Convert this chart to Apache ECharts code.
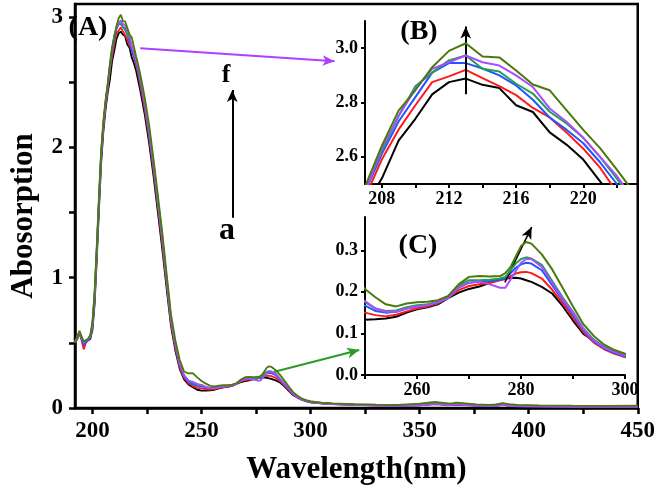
<!DOCTYPE html>
<html lang="en">
<head>
<meta charset="UTF-8">
<title>UV spectra</title>
<style>
    html, body {
        margin: 0;
        padding: 0;
        background-color: #fff;
    }
    #chart {
        width: 658px;
        height: 493px;
    }
</style>
<script src="https://cdn.jsdelivr.net/npm/echarts@6.0.0/dist/echarts.min.js"></script>
</head>
<body>
<div id="chart"></div>
<script>
    // wavelengths (nm), shared by all six spectra
    var wavelength = [
        192, 193, 194, 195, 196, 197, 198, 199, 200, 201, 202, 203, 204, 205, 206, 207,
        208, 209, 210, 211, 212, 213, 214, 215, 216, 217, 218, 219, 220, 221, 222, 223,
        224, 226, 228, 230, 232, 234, 236, 238, 240, 242, 244, 246, 248,
        250, 252, 254, 256, 258, 260, 262, 264, 266, 268, 270, 272, 274, 276, 277, 278, 279, 280, 281, 282,
        284, 286, 288, 290, 292, 294, 296, 298, 300,
        305, 310, 320, 330, 340, 350, 354, 357, 361, 364, 367, 371, 376, 382, 385, 388, 391, 395, 405, 420, 435, 450
    ];

    var absA = [
        0.50, 0.53, 0.57, 0.54, 0.51, 0.51, 0.52, 0.53, 0.60, 0.80, 1.15, 1.53, 1.88, 2.12, 2.29, 2.42,
        2.52, 2.66, 2.74, 2.83, 2.875, 2.888, 2.865, 2.853, 2.79, 2.765, 2.69, 2.645, 2.59, 2.51, 2.43, 2.34,
        2.25, 2.03, 1.78, 1.50, 1.22, 0.92, 0.63, 0.44, 0.30, 0.22, 0.18, 0.16, 0.14,
        0.133, 0.134, 0.136, 0.14, 0.15, 0.158, 0.163, 0.17, 0.185, 0.198, 0.207, 0.213, 0.222, 0.23, 0.232, 0.233, 0.234, 0.232, 0.228, 0.224,
        0.212, 0.196, 0.166, 0.131, 0.099, 0.082, 0.066, 0.054, 0.044,
        0.036, 0.030, 0.024, 0.020, 0.017, 0.020, 0.026, 0.030, 0.026, 0.022, 0.027, 0.022, 0.018, 0.015, 0.017, 0.024, 0.018, 0.014, 0.012, 0.010, 0.010, 0.010
    ];
    var absB = [
        0.50, 0.53, 0.58, 0.52, 0.45, 0.50, 0.52, 0.54, 0.62, 0.84, 1.19, 1.57, 1.92, 2.15, 2.32, 2.45,
        2.59, 2.70, 2.79, 2.875, 2.896, 2.92, 2.89, 2.86, 2.827, 2.78, 2.745, 2.69, 2.63, 2.56, 2.47, 2.38,
        2.29, 2.07, 1.82, 1.54, 1.26, 0.95, 0.65, 0.46, 0.31, 0.23, 0.19, 0.17, 0.155,
        0.15, 0.144, 0.141, 0.145, 0.153, 0.16, 0.165, 0.172, 0.186, 0.204, 0.214, 0.218, 0.222, 0.228, 0.231, 0.238, 0.244, 0.247, 0.248, 0.245,
        0.232, 0.205, 0.173, 0.138, 0.103, 0.078, 0.062, 0.051, 0.043,
        0.036, 0.031, 0.025, 0.021, 0.018, 0.022, 0.028, 0.032, 0.028, 0.024, 0.029, 0.024, 0.019, 0.016, 0.019, 0.026, 0.019, 0.015, 0.013, 0.011, 0.011, 0.011
    ];
    var absC = [
        0.50, 0.53, 0.58, 0.53, 0.48, 0.51, 0.52, 0.54, 0.63, 0.86, 1.21, 1.59, 1.94, 2.17, 2.34, 2.47,
        2.61, 2.73, 2.82, 2.91, 2.945, 2.945, 2.925, 2.90, 2.863, 2.81, 2.745, 2.70, 2.65, 2.58, 2.50, 2.41,
        2.32, 2.10, 1.85, 1.57, 1.29, 0.98, 0.67, 0.48, 0.33, 0.24, 0.20, 0.185, 0.17,
        0.167, 0.154, 0.15, 0.152, 0.16, 0.164, 0.168, 0.174, 0.186, 0.21, 0.222, 0.225, 0.226, 0.229, 0.232, 0.245, 0.258, 0.266, 0.27, 0.268,
        0.252, 0.216, 0.18, 0.145, 0.107, 0.081, 0.064, 0.053, 0.045,
        0.037, 0.032, 0.026, 0.022, 0.019, 0.024, 0.030, 0.035, 0.030, 0.026, 0.032, 0.026, 0.021, 0.017, 0.021, 0.029, 0.021, 0.016, 0.014, 0.012, 0.012, 0.012
    ];
    var absD = [
        0.51, 0.54, 0.59, 0.54, 0.50, 0.52, 0.53, 0.55, 0.64, 0.87, 1.22, 1.60, 1.95, 2.18, 2.35, 2.48,
        2.62, 2.75, 2.86, 2.91, 2.955, 2.973, 2.924, 2.914, 2.869, 2.833, 2.766, 2.723, 2.67, 2.60, 2.52, 2.43,
        2.34, 2.12, 1.87, 1.59, 1.31, 0.99, 0.68, 0.49, 0.34, 0.25, 0.21, 0.195, 0.18,
        0.175, 0.16, 0.154, 0.155, 0.163, 0.168, 0.17, 0.176, 0.188, 0.215, 0.228, 0.228, 0.229, 0.232, 0.236, 0.252, 0.268, 0.279, 0.283, 0.28,
        0.265, 0.226, 0.187, 0.152, 0.112, 0.085, 0.068, 0.057, 0.05,
        0.040, 0.034, 0.028, 0.024, 0.021, 0.028, 0.035, 0.040, 0.035, 0.030, 0.037, 0.031, 0.024, 0.020, 0.024, 0.033, 0.025, 0.020, 0.017, 0.015, 0.014, 0.015
    ];
    var absE = [
        0.51, 0.54, 0.59, 0.54, 0.50, 0.52, 0.53, 0.55, 0.64, 0.87, 1.22, 1.60, 1.95, 2.18, 2.34, 2.47,
        2.63, 2.75, 2.85, 2.924, 2.948, 2.973, 2.948, 2.936, 2.90, 2.857, 2.778, 2.729, 2.67, 2.60, 2.53, 2.44,
        2.35, 2.13, 1.88, 1.60, 1.32, 1.00, 0.69, 0.49, 0.34, 0.25, 0.21, 0.20, 0.185,
        0.178, 0.16, 0.152, 0.152, 0.16, 0.165, 0.168, 0.175, 0.185, 0.21, 0.222, 0.225, 0.218, 0.21, 0.21, 0.23, 0.25, 0.27, 0.279, 0.279,
        0.26, 0.222, 0.183, 0.15, 0.11, 0.083, 0.066, 0.055, 0.046,
        0.036, 0.030, 0.024, 0.019, 0.016, 0.021, 0.027, 0.031, 0.027, 0.022, 0.028, 0.023, 0.018, 0.014, 0.017, 0.025, 0.017, 0.013, 0.011, 0.009, 0.009, 0.009
    ];
    var absF = [
        0.50, 0.53, 0.59, 0.55, 0.51, 0.52, 0.53, 0.56, 0.66, 0.90, 1.25, 1.63, 1.98, 2.20, 2.36, 2.49,
        2.64, 2.77, 2.845, 2.93, 2.99, 3.018, 2.969, 2.966, 2.918, 2.866, 2.845, 2.772, 2.699, 2.632, 2.553, 2.47,
        2.38, 2.17, 1.91, 1.63, 1.35, 1.03, 0.72, 0.52, 0.37, 0.28, 0.265, 0.268, 0.235,
        0.207, 0.187, 0.17, 0.165, 0.172, 0.175, 0.176, 0.18, 0.19, 0.218, 0.236, 0.238, 0.237, 0.238, 0.245, 0.26, 0.285, 0.31, 0.32, 0.316,
        0.29, 0.254, 0.21, 0.165, 0.122, 0.094, 0.073, 0.06, 0.051,
        0.042, 0.036, 0.030, 0.026, 0.024, 0.034, 0.042, 0.046, 0.040, 0.034, 0.042, 0.036, 0.028, 0.024, 0.028, 0.038, 0.030, 0.024, 0.020, 0.018, 0.017, 0.018
    ];

    var spectra = [absA, absB, absC, absD, absE, absF];
    var spectraNames = ['a', 'b', 'c', 'd', 'e', 'f'];
    var spectraColors = ['#000000', '#ff1a1a', '#2255ff', '#20a050', '#aa4cff', '#4a7a0c'];

    // tick labels
    var mainXLabels = [200, 250, 300, 350, 400, 450];
    var mainXTicks = [200, 225, 250, 275, 300, 325, 350, 375, 400, 425, 450];
    var mainYLabels = [0, 1, 2, 3];
    var mainYTicks = [0, 0.5, 1, 1.5, 2, 2.5, 3];
    var insetBXLabels = [208, 212, 216, 220];
    var insetBXTicks = [208, 210, 212, 214, 216, 218, 220, 222];
    var insetBYLabels = [2.6, 2.8, 3.0];
    var insetCXLabels = [260, 280, 300];
    var insetCXTicks = [250, 260, 270, 280, 290, 300];
    var insetCYLabels = [0, 0.1, 0.2, 0.3];

    var serif = '"Liberation Serif", "Times New Roman", serif';
    var chart = echarts.init(document.getElementById('chart'));

    function pairs(vals) {
        return wavelength.map(function (w, i) { return [w, vals[i]]; });
    }

    function axisBase(lineWidth, fontSize, tickLen) {
        return {
            type: 'value',
            splitLine: {show: false},
            axisLine: {show: true, onZero: false, lineStyle: {color: '#000', width: lineWidth}},
            axisTick: {show: true, length: tickLen, lineStyle: {color: '#000', width: lineWidth}},
            axisLabel: {color: '#000', fontFamily: serif, fontWeight: 'bold', fontSize: fontSize}
        };
    }

    function mk(base, extra) {
        var o = JSON.parse(JSON.stringify(base));
        for (var k in extra) {
            if (typeof extra[k] === 'object' && o[k] && !Array.isArray(extra[k])) {
                for (var j in extra[k]) o[k][j] = extra[k][j];
            } else {
                o[k] = extra[k];
            }
        }
        return o;
    }

    var mainAxis = axisBase(2.5, 23, 6);
    var insetAxis = axisBase(2, 18, 4);

    var xAxes = [
        mk(mainAxis, {
            gridIndex: 0, min: 192, max: 450,
            name: 'Wavelength(nm)', nameLocation: 'middle', nameGap: 46,
            nameTextStyle: {fontFamily: serif, fontWeight: 'bold', fontSize: 31, color: '#000'},
            axisTick: {customValues: mainXTicks},
            axisLabel: {customValues: mainXLabels, margin: 12}
        }),
        mk(insetAxis, {
            gridIndex: 1, min: 207, max: 223.2,
            axisTick: {customValues: insetBXTicks},
            axisLabel: {customValues: insetBXLabels, margin: 6}
        }),
        mk(insetAxis, {
            gridIndex: 2, min: 250, max: 300,
            axisTick: {customValues: insetCXTicks},
            axisLabel: {customValues: insetCXLabels, margin: 6}
        })
    ];
    var yAxes = [
        mk(mainAxis, {
            gridIndex: 0, min: 0, max: 3.1,
            name: 'Abosorption', nameLocation: 'middle', nameGap: 36, nameRotate: 90,
            nameTextStyle: {fontFamily: serif, fontWeight: 'bold', fontSize: 31, color: '#000', padding: [0, 20, 0, 0]},
            axisTick: {customValues: mainYTicks},
            axisLabel: {customValues: mainYLabels, margin: 12}
        }),
        mk(insetAxis, {
            gridIndex: 1, min: 2.5, max: 3.1,
            axisTick: {customValues: insetBYLabels},
            axisLabel: {customValues: insetBYLabels, margin: 7,
                formatter: function (v) { return v.toFixed(1); }}
        }),
        mk(insetAxis, {
            gridIndex: 2, min: 0, max: 0.38,
            axisTick: {customValues: insetCYLabels},
            axisLabel: {customValues: insetCYLabels, margin: 7,
                formatter: function (v) { return v.toFixed(1); }}
        })
    ];

    var arrowStyle = {
        silent: true,
        animation: false,
        symbol: ['none', 'arrow'],
        symbolSize: [8, 12],
        label: {show: false},
        emphasis: {disabled: true}
    };

    var series = [];
    [0, 1, 2].forEach(function (g) {
        spectra.forEach(function (vals, k) {
            var s = {
                name: spectraNames[k] + g,
                type: 'line',
                xAxisIndex: g,
                yAxisIndex: g,
                data: pairs(vals),
                symbol: 'none',
                showSymbol: false,
                clip: true,
                animation: false,
                emphasis: {disabled: true},
                lineStyle: {color: spectraColors[k], width: g === 0 ? 1.8 : 2},
                itemStyle: {color: spectraColors[k]},
                z: 2 + k
            };
            if (k === spectra.length - 1) {
                var lines;
                if (g === 0) {
                    lines = [
                        [{coord: [221.9, 2.76], lineStyle: {color: '#b040ff', width: 2, type: 'solid'}}, {coord: [311, 2.66]}],
                        [{coord: [264.1, 1.46], lineStyle: {color: '#000', width: 2, type: 'solid'}}, {coord: [264.1, 2.44]}],
                        [{coord: [283, 0.276], lineStyle: {color: '#2a9a2a', width: 2, type: 'solid'}}, {coord: [322.3, 0.445]}]
                    ];
                } else if (g === 1) {
                    lines = [
                        [{coord: [213, 2.83], lineStyle: {color: '#000', width: 2, type: 'solid'}}, {coord: [213, 3.08]}]
                    ];
                } else {
                    lines = [
                        [{coord: [276.9, 0.223], lineStyle: {color: '#000', width: 1.6, type: 'solid'}}, {coord: [282.05, 0.356]}]
                    ];
                }
                s.markLine = mk(arrowStyle, {data: lines});
                s.markLine.silent = true;
            }
            series.push(s);
        });
    });

    function label(text, x, y, size) {
        return {
            type: 'text', x: x, y: y, z: 100,
            style: {
                text: text, fill: '#000',
                font: 'bold ' + size + 'px ' + serif,
                textAlign: 'center', textVerticalAlign: 'middle'
            }
        };
    }

    var option = {
        backgroundColor: '#fff',
        animation: false,
        grid: [
            {left: 67, top: 4, right: 20, bottom: 85, show: true, borderColor: '#000', borderWidth: 2.5, backgroundColor: 'transparent'},
            {left: 365, top: 21, right: 21, bottom: 309},
            {left: 365, top: 217, right: 33, bottom: 118}
        ],
        xAxis: xAxes,
        yAxis: yAxes,
        series: series,
        graphic: [
            label('(A)', 88, 28, 28),
            label('(B)', 419, 32, 28),
            label('(C)', 418, 246, 28),
            label('f', 226, 75, 26),
            label('a', 227, 231, 32)
        ]
    };
    chart.setOption(option);
</script>
</body>
</html>
